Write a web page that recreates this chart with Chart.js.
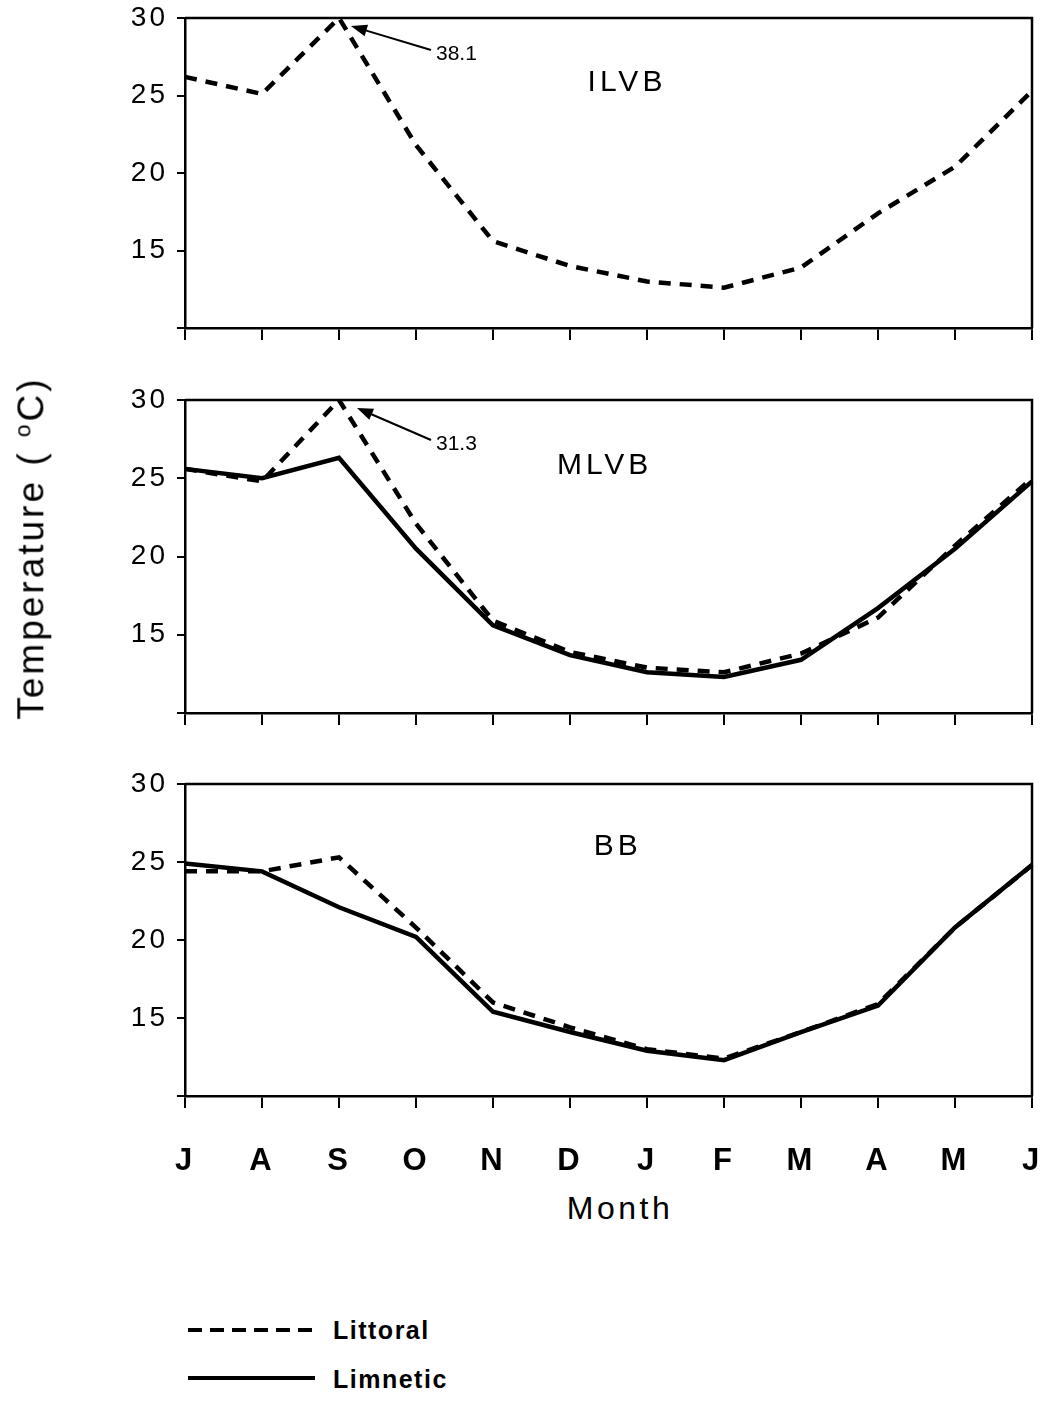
<!DOCTYPE html>
<html>
<head>
<meta charset="utf-8">
<script src="https://cdn.jsdelivr.net/npm/chart.js@4.4.1/dist/chart.umd.min.js"></script>
<style>
  body { margin: 0; background: #fff; }
  #page { position: relative; width: 1046px; height: 1422px; overflow: hidden; font-family: "Liberation Sans", Arial, sans-serif; color: #000; }
  canvas { position: absolute; left: 0; }
  #ytitle { position: absolute; left: 31px; top: 548px; transform: translate(-50%, -50%) rotate(-90deg); font-size: 37px; letter-spacing: 3px; white-space: nowrap; }
  #ytitle sup { font-size: 62%; }
  #xtitle { position: absolute; left: 620px; top: 1208px; transform: translate(-50%, -50%); font-size: 32px; letter-spacing: 3.5px; white-space: nowrap; }
  .legline { position: absolute; left: 188px; width: 127px; height: 4px; }
  .legtext { position: absolute; left: 333px; font-size: 25px; font-weight: bold; letter-spacing: 1.5px; transform: translateY(-50%); }
</style>
</head>
<body>
<div id="page">
  <canvas id="c1" width="1046" height="345" style="top:0px"></canvas>
  <canvas id="c2" width="1046" height="348" style="top:382px"></canvas>
  <canvas id="c3" width="1046" height="412" style="top:766px"></canvas>
  <div id="ytitle">Temperature ( <sup>o</sup>C)</div>
  <div id="xtitle">Month</div>
  <div class="legline" style="top:1328px; background: repeating-linear-gradient(to right, #000 0 14px, transparent 14px 22px);"></div>
  <div class="legtext" style="top:1330px">Littoral</div>
  <div class="legline" style="top:1376px; background:#000;"></div>
  <div class="legtext" style="top:1379px">Limnetic</div>
</div>
<script>
// months from July to June
const months = ['J', 'A', 'S', 'O', 'N', 'D', 'J', 'F', 'M', 'A', 'M', 'J'];
const yTicks = [10, 15, 20, 25, 30];

// ILVB (littoral only), September point is off scale (38.1)
const ilvbLittoral = [26.2, 25.1, 30, 21.8, 15.6, 14.0, 13.0, 12.6, 13.9, 17.4, 20.4, 25.3];

// MLVB, September littoral off scale (31.3)
const mlvbLittoral = [25.6, 24.8, 30, 22.1, 15.9, 13.9, 12.9, 12.6, 13.8, 16.1, 20.7, 25.0];
const mlvbLimnetic = [25.6, 25.0, 26.3, 20.5, 15.6, 13.7, 12.6, 12.3, 13.4, 16.7, 20.5, 24.8];

// BB
const bbLittoral = [24.4, 24.4, 25.3, 20.8, 16.0, 14.4, 13.0, 12.4, 14.1, 15.9, 20.8, 24.8];
const bbLimnetic = [24.9, 24.4, 22.1, 20.2, 15.4, 14.1, 12.9, 12.3, 14.1, 15.8, 20.8, 24.8];

const FONT = '"Liberation Sans", Arial, sans-serif';

const spacing = {
    id: 'spacing',
    beforeLayout(chart) { chart.ctx.letterSpacing = '3px'; },
    beforeDraw(chart) { chart.ctx.letterSpacing = '3px'; }
};

const frame = {
    id: 'frame',
    afterDraw(chart) {
        const { ctx, chartArea: a } = chart;
        ctx.save();
        ctx.strokeStyle = '#000';
        ctx.lineWidth = 2.5;
        ctx.beginPath();
        ctx.moveTo(a.left, a.top);
        ctx.lineTo(a.right, a.top);
        ctx.lineTo(a.right, a.bottom);
        ctx.stroke();
        ctx.restore();
    }
};

const panelLabel = {
    id: 'panelLabel',
    afterDraw(chart, args, opts) {
        if (!opts.text) return;
        const { ctx, scales: { x, y } } = chart;
        ctx.save();
        ctx.letterSpacing = '4px';
        ctx.font = '30px ' + FONT;
        ctx.fillStyle = '#000';
        ctx.textAlign = 'center';
        ctx.textBaseline = 'middle';
        ctx.fillText(opts.text, x.getPixelForValue(opts.at), y.getPixelForValue(opts.value));
        ctx.restore();
    }
};

// arrow pointing at an off-scale point, with its true value
const arrowNote = {
    id: 'arrowNote',
    afterDatasetsDraw(chart, args, opts) {
        if (!opts.text) return;
        const { ctx, scales: { x, y } } = chart;
        const px = x.getPixelForValue(opts.index);
        const py = y.getPixelForValue(y.max);
        const tipX = px + 12 + opts.dx, tipY = py + 8;
        const tailX = px + 92, tailY = py + 32 + opts.dy;
        const ang = Math.atan2(tipY - tailY, tipX - tailX);
        ctx.save();
        ctx.strokeStyle = '#000';
        ctx.fillStyle = '#000';
        ctx.lineWidth = 2;
        ctx.beginPath();
        ctx.moveTo(tailX, tailY);
        ctx.lineTo(tipX - 10 * Math.cos(ang), tipY - 10 * Math.sin(ang));
        ctx.stroke();
        ctx.beginPath();
        ctx.moveTo(tipX, tipY);
        ctx.lineTo(tipX - 16 * Math.cos(ang) + 6 * Math.sin(ang), tipY - 16 * Math.sin(ang) - 6 * Math.cos(ang));
        ctx.lineTo(tipX - 16 * Math.cos(ang) - 6 * Math.sin(ang), tipY - 16 * Math.sin(ang) + 6 * Math.cos(ang));
        ctx.closePath();
        ctx.fill();
        ctx.font = '21px ' + FONT;
        ctx.letterSpacing = '0px';
        ctx.textBaseline = 'middle';
        ctx.fillText(opts.text, tailX + 5, tailY + 4);
        ctx.restore();
    }
};

function littoral(data) {
    return { label: 'Littoral', data: data, borderColor: '#000', borderWidth: 4.5, borderDash: [12, 9], pointRadius: 0, tension: 0, fill: false };
}
function limnetic(data) {
    return { label: 'Limnetic', data: data, borderColor: '#000', borderWidth: 4.5, pointRadius: 0, tension: 0, fill: false };
}

function makePanel(id, datasets, label, note, showMonths, xHeight) {
    new Chart(document.getElementById(id), {
        type: 'line',
        data: { labels: months, datasets: datasets },
        options: {
            responsive: false,
            animation: false,
            events: [],
            layout: { padding: { top: 18, right: 14, left: 0, bottom: 0 } },
            plugins: {
                legend: { display: false },
                tooltip: { enabled: false },
                panelLabel: label,
                arrowNote: note || {}
            },
            scales: {
                x: {
                    offset: false,
                    border: { display: true, color: '#000', width: 2.5 },
                    grid: { drawOnChartArea: false, drawTicks: true, tickLength: 12, color: '#000', lineWidth: 2 },
                    ticks: { display: showMonths, color: '#000', padding: 35, maxRotation: 0, autoSkip: false, font: { family: FONT, size: 31, weight: 'bold' } },
                    afterFit(scale) {
                        scale.height = xHeight;
                        scale.paddingLeft = 0;
                        scale.paddingRight = 0;
                    }
                },
                y: {
                    min: 10,
                    max: 30,
                    border: { display: true, color: '#000', width: 2.5 },
                    grid: { drawOnChartArea: false, drawTicks: true, tickLength: 8, color: '#000', lineWidth: 2 },
                    afterBuildTicks(scale) { scale.ticks = yTicks.map(v => ({ value: v })); },
                    ticks: {
                        color: '#000', padding: 9,
                        font: { family: FONT, size: 28 },
                        callback: v => v === 10 ? '' : v
                    },
                    afterFit(scale) {
                        scale.width = 185;
                        scale.paddingTop = 0;
                        scale.paddingBottom = 0;
                    }
                }
            }
        },
        plugins: [spacing, frame, panelLabel, arrowNote]
    });
}

makePanel('c1', [littoral(ilvbLittoral)], { text: 'ILVB', at: 5.74, value: 25.8 }, { index: 2, text: '38.1', dx: 0, dy: 0 }, false, 17);
makePanel('c2', [limnetic(mlvbLimnetic), littoral(mlvbLittoral)], { text: 'MLVB', at: 5.45, value: 25.8 }, { index: 2, text: '31.3', dx: 6, dy: 8 }, false, 17);
makePanel('c3', [limnetic(bbLimnetic), littoral(bbLittoral)], { text: 'BB', at: 5.62, value: 26.0 }, null, true, 82);
</script>
</body>
</html>
